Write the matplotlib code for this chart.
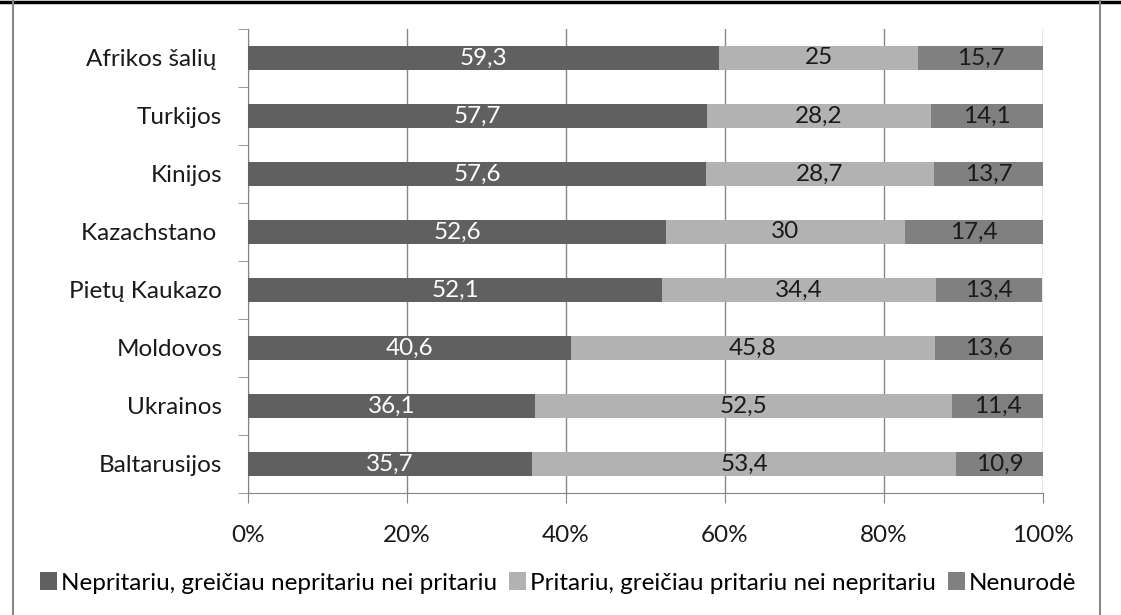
import matplotlib.pyplot as plt
from matplotlib.lines import Line2D
import numpy as np

plt.rcParams['font.family'] = ['Lato', 'DejaVu Sans']

# categories, top to bottom
countries = ['Afrikos šalių ', 'Turkijos', 'Kinijos', 'Kazachstano ',
             'Pietų Kaukazo', 'Moldovos', 'Ukrainos', 'Baltarusijos']
nepritariu = [59.3, 57.7, 57.6, 52.6, 52.1, 40.6, 36.1, 35.7]
pritariu = [25, 28.2, 28.7, 30, 34.4, 45.8, 52.5, 53.4]
nenurode = [15.7, 14.1, 13.7, 17.4, 13.4, 13.6, 11.4, 10.9]
series_names = ['Nepritariu, greičiau nepritariu nei pritariu',
                'Pritariu, greičiau pritariu nei nepritariu',
                'Nenurodė']
colors = ['#606060', '#b2b2b2', '#808080']
label_colors = ['white', '#1a1a1a', '#1a1a1a']
FS = 17.5

fig = plt.figure(figsize=(11.21, 6.15), dpi=100)
ax = fig.add_axes([248/1121, 1-493/615, (1043-248)/1121, (493-29)/615])

y = np.arange(len(countries))[::-1]
left = np.zeros(len(countries))
handles = []
for vals, name, c, lc in zip([nepritariu, pritariu, nenurode], series_names, colors, label_colors):
    vals = np.array(vals, dtype=float)
    h = ax.barh(y, vals, left=left, height=0.4, color=c, label=name, zorder=3)
    handles.append(h)
    for yi, l, v in zip(y, left, vals):
        txt = ('%g' % v).replace('.', ',')
        ax.text(l + v/2, yi, txt, ha='center', va='center', fontsize=FS, color=lc, zorder=4)
    left += vals

ax.set_xlim(0, 100)
ax.set_ylim(-0.5, len(countries) - 0.5)
ax.set_xticks(range(0, 101, 20))
ax.set_xticklabels(['%d%%' % t for t in range(0, 101, 20)], fontsize=FS, color='#1a1a1a')
ax.set_yticks(y)
ax.set_yticklabels(countries, fontsize=FS, color='#1a1a1a')
ax.set_yticks(np.arange(-0.5, len(countries), 1), minor=True)
ax.tick_params(axis='y', which='major', length=0, pad=18.5)
ax.tick_params(axis='y', which='minor', length=7, color='#868686', direction='out')
ax.tick_params(axis='x', length=7, color='#868686', direction='out', pad=16)
ax.xaxis.grid(True, color='#868686', linewidth=1, zorder=0)
for s in ['top', 'right']:
    ax.spines[s].set_visible(False)
for s in ['left', 'bottom']:
    ax.spines[s].set_color('#868686')

fig.legend(handles=handles, labels=series_names, loc='center', ncol=3,
           bbox_to_anchor=(558/1121, 1-583/615), frameon=False, fontsize=FS,
           handlelength=0.7, handleheight=0.7, handletextpad=0.15, columnspacing=0.5,
           borderpad=0)

# frame lines of the original image
fig.add_artist(Line2D([0, 1], [1-1.5/615, 1-1.5/615], color='black', linewidth=2.5))
fig.add_artist(Line2D([12.5/1121, 12.5/1121], [0, 1], color='#888888', linewidth=1.5))
fig.add_artist(Line2D([1100/1121, 1100/1121], [0, 1], color='#888888', linewidth=1.5))

fig.savefig('out.png', dpi=100)
